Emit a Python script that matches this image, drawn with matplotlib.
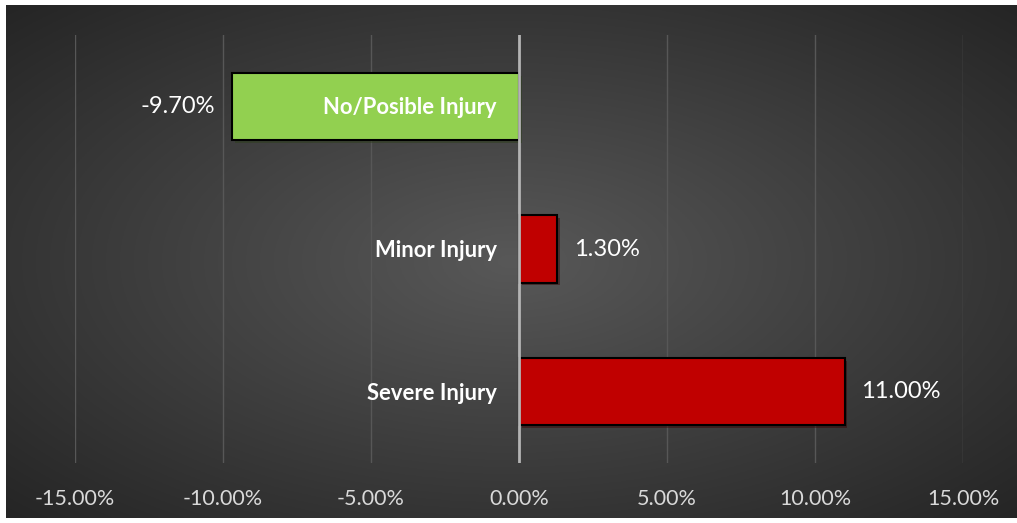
import numpy as np
import matplotlib
matplotlib.use("Agg")
import matplotlib.pyplot as plt
import matplotlib.patheffects as pe

categories = ["Severe Injury", "Minor Injury", "No/Posible Injury"]
values = [11.0, 1.3, -9.7]
bar_colors = ["#C00000", "#C00000", "#92D050"]
ticks = [-15, -10, -5, 0, 5, 10, 15]
tick_labels = ["-15.00%", "-10.00%", "-5.00%", "0.00%", "5.00%", "10.00%", "15.00%"]

plt.rcParams["font.family"] = ["Lato", "DejaVu Sans"]

W, H = 1017, 523
fig = plt.figure(figsize=(W / 100, H / 100), dpi=100)
fig.set_facecolor("white")

# radial gradient backdrop (dark area inside a thin white border)
bg = fig.add_axes([6 / W, 5 / H, (W - 6) / W, (H - 10) / H])
bg.set_axis_off()
yy, xx = np.mgrid[-1:1:300j, -1:1:600j]
r = np.clip(np.sqrt(xx ** 2 + yy ** 2) / np.sqrt(2), 0, 1)
shade = 0.345 - 0.2 * r
bg.imshow(np.dstack([shade] * 3), aspect="auto", extent=[0, 1, 0, 1])

ax = fig.add_axes([75 / W, (H - 463) / H, 888 / W, 428 / H])
ax.patch.set_alpha(0)
ypos = np.arange(len(categories))
bars = ax.barh(ypos, values, height=0.47, color=bar_colors, edgecolor="black",
               linewidth=1.5, zorder=3)
for b in bars:
    b.set_path_effects([pe.SimplePatchShadow(offset=(2, -2), alpha=0.45), pe.Normal()])

ax.set_xlim(-15, 15)
ax.set_ylim(-0.5, 2.5)
ax.set_xticks(ticks)
ax.set_xticklabels(tick_labels)
ax.set_yticks([])
ax.tick_params(axis="x", length=0, pad=19, labelsize=15.5, labelcolor="#d9d9d9")
for s in ax.spines.values():
    s.set_visible(False)
for t in ticks:
    if t != 0:
        ax.axvline(t, color="#575757", lw=1, zorder=1)
ax.axvline(0, color="#b4b4b4", lw=2, zorder=4)

for y, v, cat in zip(ypos, values, categories):
    off = 12 if v > 0 else -12
    ax.annotate(f"{v:.2f}%", (v, y), xytext=(off, 0), textcoords="offset points",
                ha="left" if v > 0 else "right", va="center", fontsize=17, color="white")
    ax.annotate(cat, (0, y), xytext=(-16, -1), textcoords="offset points",
                ha="right", va="center", fontsize=15.8, fontweight="bold", color="white", zorder=5)

fig.savefig("out.png", dpi=100, facecolor=fig.get_facecolor())
